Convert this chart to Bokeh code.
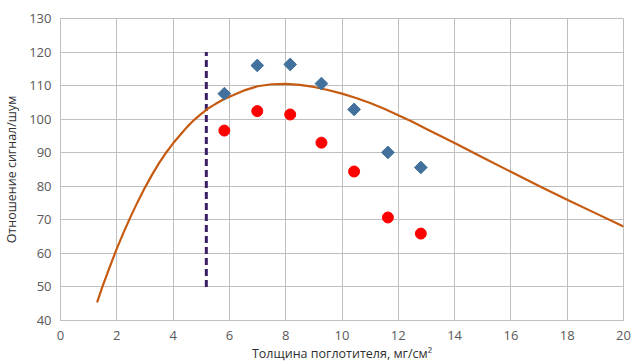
import numpy as np
from bokeh.plotting import figure
from bokeh.models import Range1d, FixedTicker
from bokeh.embed import file_html
from bokeh.resources import INLINE

# Measured series (blue diamonds)
diamond_x = [5.82, 6.99, 8.16, 9.27, 10.43, 11.63, 12.80]
diamond_y = [107.6, 116.0, 116.3, 110.6, 102.9, 90.1, 85.6]

# Measured series (red circles)
circle_x = [5.82, 6.99, 8.16, 9.27, 10.43, 11.63, 12.80]
circle_y = [96.6, 102.4, 101.4, 93.0, 84.4, 70.7, 65.9]

# Model curve
curve_x = [1.30, 1.5, 1.75, 2.0, 2.25, 2.5, 2.75, 3.0, 3.25, 3.5, 3.75, 4.0, 4.25, 4.5,
           4.75, 5.0, 5.25, 5.5, 5.75, 6.0, 6.5, 7.0, 7.5, 8.0, 8.5, 9.0, 9.5, 10.0,
           10.5, 11.0, 11.5, 12.0, 12.5, 13.0, 13.5, 14.0, 15.0, 16.0, 17.0, 18.0,
           19.0, 20.0]
curve_y = [45.4, 50.3, 56.0, 61.4, 66.4, 71.1, 75.5, 79.6, 83.4, 86.9, 90.0, 92.8, 95.3, 97.7,
           99.8, 101.6, 103.2, 104.5, 105.7, 106.7, 108.5, 109.8, 110.4, 110.5, 110.2, 109.6, 108.7, 107.6,
           106.3, 104.8, 103.1, 101.2, 99.2, 97.1, 95.0, 92.9, 88.6, 84.3, 80.1, 76.0,
           72.0, 68.0]

# Vertical dashed marker
marker_x = [5.18, 5.18]
marker_y = [50, 120]

x_ticks = list(range(0, 21, 2))
y_ticks = list(range(40, 131, 10))

p = figure(width=631, height=364, output_backend="svg", toolbar_location=None,
           x_range=Range1d(0, 20), y_range=Range1d(40, 130),
           min_border_left=59, min_border_right=8, min_border_top=18, min_border_bottom=44)

p.background_fill_color = "white"
p.border_fill_color = "white"
p.outline_line_color = "#bfbfbf"
p.outline_line_width = 1

for ax in (p.xaxis[0], p.yaxis[0]):
    ax.major_tick_in = 0
    ax.major_tick_out = 0
    ax.minor_tick_in = 0
    ax.minor_tick_out = 0
    ax.axis_line_color = "#bfbfbf"
    ax.major_label_text_font = "Open Sans"
    ax.major_label_text_font_size = "13px"
    ax.major_label_text_color = "#595959"
    ax.axis_label_text_font = "Open Sans"
    ax.axis_label_text_font_size = "12.5px"
    ax.axis_label_text_font_style = "normal"
    ax.axis_label_text_color = "#303030"

p.xaxis[0].ticker = FixedTicker(ticks=x_ticks)
p.yaxis[0].ticker = FixedTicker(ticks=y_ticks)
p.xaxis[0].major_label_standoff = 10
p.yaxis[0].major_label_standoff = 9
p.xaxis[0].axis_label = "Толщина поглотителя, мг/см²"
p.yaxis[0].axis_label = "Отношение сигнал/шум"
p.xaxis[0].axis_label_standoff = 2
p.yaxis[0].axis_label_standoff = 6

p.xgrid.grid_line_color = "#bfbfbf"
p.ygrid.grid_line_color = "#bfbfbf"
p.xgrid.grid_line_width = 1
p.ygrid.grid_line_width = 1

p.line(marker_x, marker_y, line_color="#3b1f66", line_width=3, line_dash="7 4")
p.line(curve_x, curve_y, line_color="#c55a11", line_width=2.2, line_join="round")
p.scatter(diamond_x, diamond_y, marker="square", angle=np.pi / 4, size=9,
          fill_color="#41719c", line_color="#41719c")
p.scatter(circle_x, circle_y, marker="circle", size=11,
          fill_color="#ff0000", line_color="#ff0000")

open("out.html", "w").write(file_html(p, INLINE))
